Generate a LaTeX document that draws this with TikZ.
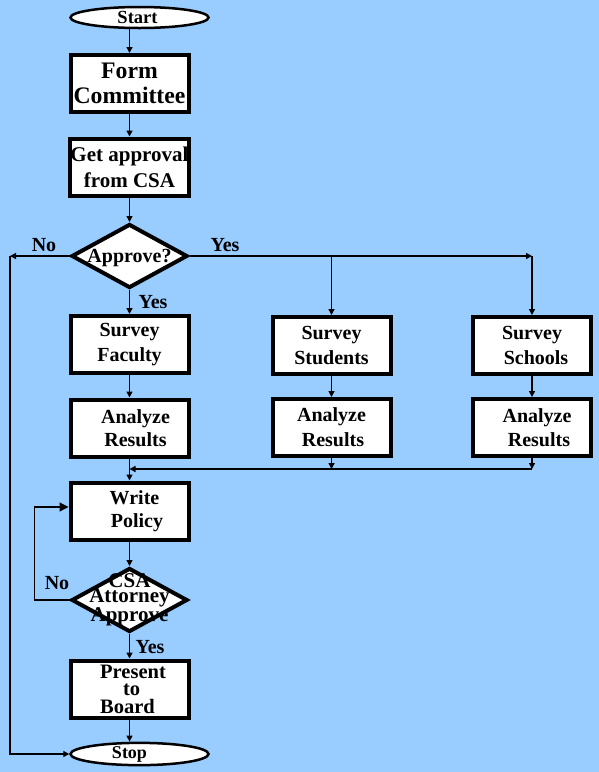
\documentclass[tikz,border=0pt]{standalone}
\usepackage{fontspec}
\setmainfont{Liberation Serif}
\usetikzlibrary{shapes.geometric,arrows.meta}
\definecolor{bgblue}{RGB}{153,204,255}
\tikzset{
  box/.style={draw, line width=4pt, fill=white, minimum width=118pt, minimum height=57pt,
    inner sep=0pt, align=center, font=\bfseries\fontsize{20}{25}\selectfont},
  term/.style={draw, ellipse, line width=2.5pt, fill=white, minimum width=138pt, minimum height=21pt,
    inner sep=0pt, font=\bfseries\fontsize{18.5}{20}\selectfont},
  decis/.style={draw, diamond, line width=4pt, fill=white, minimum width=116pt, minimum height=64pt,
    inner sep=0pt, aspect=1.8},
  arr/.style={-{Triangle[length=6pt,width=6pt]}, line width=1.3pt},
  ln/.style={line width=1.3pt},
  lbl/.style={font=\bfseries\fontsize{20}{24}\selectfont, anchor=base, inner sep=0pt},
}
\begin{document}
\begin{tikzpicture}[x=1pt,y=-1pt]
\fill[bgblue] (0,0) rectangle (599,772);
\useasboundingbox (0,0) rectangle (599,772);

\node[term] (Start) at (139.5,17.5) {\hspace*{-4pt}Start};
\node[box, font=\bfseries\fontsize{23.7}{25}\selectfont] (FC) at (129.5,83.5) {Form\\Committee};
\node[box, font=\bfseries\fontsize{21}{26}\selectfont] (GA) at (129.5,167) {Get approval\\from CSA};
\node[decis, label={[font=\bfseries\fontsize{20}{24}\selectfont, yshift=-2pt]center:Approve?}] (AP) at (129.5,256) {};

\node[box] (SF) at (129.5,344.5) {Survey\\Faculty};
\node[box] (SS) at (331.5,345.5) {Survey\\Students};
\node[box] (SC) at (532,345.5) {Survey\\\hspace*{8pt}Schools};

\node[box, font=\bfseries\fontsize{20}{23}\selectfont] (AF) at (129.5,428) {\hspace*{12pt}Analyze\\\hspace*{12pt}Results};
\node[box] (AS) at (331.5,427.5) {Analyze\\\hspace*{3pt}Results};
\node[box, font=\bfseries\fontsize{20}{24}\selectfont] (AC) at (532,427.5) {\hspace*{10pt}Analyze\\\hspace*{14pt}Results};

\node[box, font=\bfseries\fontsize{20}{23}\selectfont] (WP) at (129.5,511) {\hspace*{10pt}Write\\\hspace*{15pt}Policy};
\node[decis, label={[font=\bfseries\fontsize{21}{12.5}\selectfont, align=center]center:CSA\\Attorney\\Approve}] (CA) at (129.5,600) {};
\node[box, align=left, font=\bfseries\fontsize{20.5}{17.5}\selectfont] (PB) at (129.5,689) {\hspace*{7pt}Present\\\hspace*{30pt}to\\\hspace*{7pt}Board};
\node[term, font=\bfseries\fontsize{18}{20}\selectfont] (Stop) at (139.5,754) {\hspace*{-20pt}Stop};

% labels
\node[lbl] (no1) at (44,251) {No};
\node[lbl] (yes1) at (225,251) {Yes};
\node[lbl] (yes2) at (153,308) {Yes};
\node[lbl] (no2) at (57,589) {No};
\node[lbl] (yes3) at (150,653) {Yes};

% connectors
\draw[arr] (Start.south -| FC.north) -- (FC.north);
\draw[arr] (FC.south) -- (GA.north);
\draw[arr] (GA.south) -- (AP.north);
\draw[arr] (AP.south) -- (SF.north);
\draw[arr] (AP.east) -- (SC.north |- AP.east) coordinate (yr);
\draw[arr] (yr) -- (SC.north);
\draw[arr] (SS.north |- AP.east) -- (SS.north);
\draw[arr] (AP.west) -- ++(-59.5,0) coordinate (nl);
\draw[arr] (nl) |- (Stop.west);
\draw[arr] (SF.south) -- (AF.north);
\draw[arr] (SS.south) -- (AS.north);
\draw[arr] (SC.south) -- (AC.north);
\draw[arr] (AS.south) -- ++(0,11) coordinate (m1);
\draw[arr] (AC.south) -- ++(0,11) coordinate (m2);
\draw[arr] (m2) -- (AF.south |- m2);
\draw[arr] (AF.south) -- (WP.north);
\draw[arr] (WP.south) -- (CA.north);
\draw[ln, -{Triangle[length=9pt,width=9pt]}] (CA.west) -| ([xshift=-34pt,yshift=4pt]WP.west) -- ([yshift=4pt]WP.west);
\draw[arr] (CA.south) -- (PB.north);
\draw[arr] (PB.south) -- (PB.south |- Stop.north);
\end{tikzpicture}
\end{document}
